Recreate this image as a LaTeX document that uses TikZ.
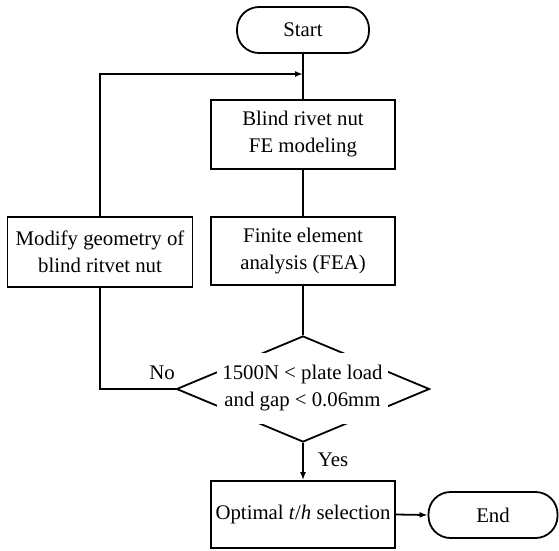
\documentclass[tikz,border=0pt]{standalone}
\usepackage{fontspec}
\setmainfont{Liberation Serif}
\usetikzlibrary{shapes.geometric,arrows.meta}
\begin{document}
\begin{tikzpicture}[x=1pt,y=-1pt,
  every node/.style={font=\fontsize{20.8}{27}\selectfont, inner sep=0pt},
  line/.style={line width=1.8pt},
  procbox/.style={draw, line width=1.8pt, rectangle, align=center},
  termbox/.style={draw, line width=1.8pt, rectangle, rounded corners=22pt, align=center},
  decbox/.style={draw, line width=1.8pt, diamond},
  arr/.style={line width=1.8pt, -{Latex[length=8pt,width=6pt]}}
]
\useasboundingbox (0,0) rectangle (559,550);
\node[termbox, minimum width=132pt, minimum height=46pt] (start) at (303,30) {Start};
\node[procbox, minimum width=184pt, minimum height=69pt] (model) at (303,134.5) {Blind rivet nut\\FE modeling};
\node[procbox, minimum width=184pt, minimum height=68pt] (fea) at (303,251) {Finite element\\analysis (FEA)};
\node[procbox, minimum width=185pt, minimum height=70pt] (modify) at (100,252) {Modify geometry of\\blind ritvet nut};
\node[decbox, minimum width=253pt, minimum height=106pt] (dec) at (303,389) {};
\node[fill=white, align=center, minimum width=171pt, minimum height=71pt] (dectxt) at (302.5,388.5) {1500N \textless{} plate load\\and gap \textless{} 0.06mm};
\node[procbox, minimum width=184pt, minimum height=67pt] (opt) at (303,514.5) {Optimal \textit{t}/\textit{h} selection};
\node[termbox, minimum width=129pt, minimum height=46pt] (end) at (493,515) {End};
\coordinate (join) at (303,74);
\node (no) at (162,373) {No};
\node (yes) at (333,460) {Yes};

\draw[line] (start.south) -- (model.north);
\draw[line] (model.south) -- (fea.north);
\draw[line] (fea.south) -- (dec.north);
\draw[line] (dec.west) -| (modify.south);
\draw[arr] (modify.north) |- (join);
\draw[arr] (dec.south) -- (opt.north);
\draw[arr] (opt.east) -- (end.west);
\end{tikzpicture}
\end{document}
